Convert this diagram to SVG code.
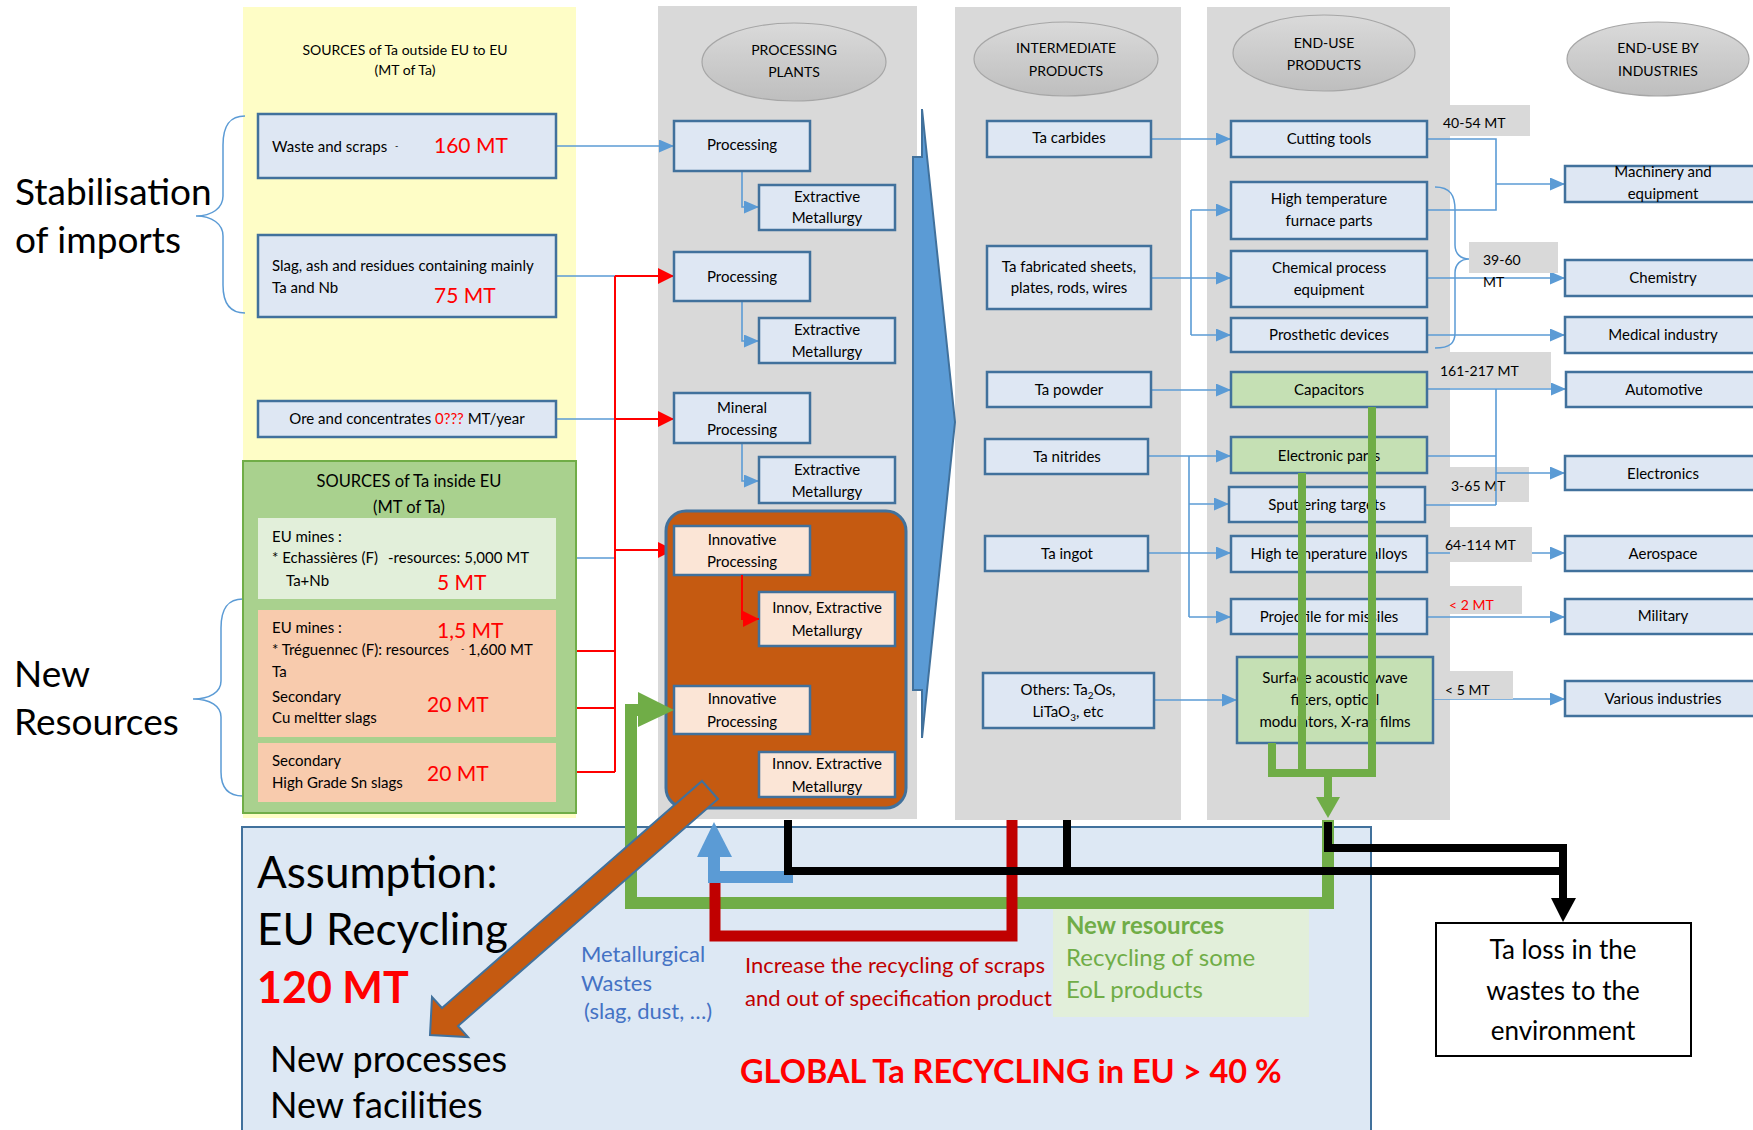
<svg xmlns="http://www.w3.org/2000/svg" width="1753" height="1130" viewBox="0 0 1753 1130">
<style>
  .t { font-family: Lato, 'Liberation Sans', sans-serif; font-size: 15px; fill: #000; }
  .h { font-size: 14px; }
  .c { text-anchor: middle; }
  .red { fill: #FF0000; }
  .amt { font-size: 21px; fill: #FF0000; }
  .box { fill: #DEE7F3; stroke: #41719C; stroke-width: 2.5; }
  .gbox { fill: #C5E0B4; stroke: #41719C; stroke-width: 2.5; }
  .ibox { fill: #FBE5D6; stroke: #41719C; stroke-width: 2.5; }
  .panel { fill: #D9D9D9; }
  .ell { fill: url(#eg); stroke: #A6A6A6; stroke-width: 1.2; }
  .lbl { fill: #D9D9D9; }
  .conn { fill: none; stroke: #5B9BD5; stroke-width: 1.6; }
  .rconn { fill: none; stroke: #FF0000; stroke-width: 2; }
  .brace { fill: none; stroke: #5B9BD5; stroke-width: 1.5; }
  .big { font-size: 37px; }
  .head { font-size: 44px; }
  .sub { font-size: 36px; }
  .note { font-size: 22px; }
  .eol { font-size: 24px; fill: #70AD47; }
  .loss { font-size: 26px; }
  .title16 { font-size: 16.5px; }
  .thk { fill: none; stroke-linejoin: miter; stroke-linecap: butt; }
</style>
<defs>
  <linearGradient id="eg" x1="0" y1="0" x2="0" y2="1">
    <stop offset="0" stop-color="#DADADA"/>
    <stop offset="1" stop-color="#BEBEBE"/>
  </linearGradient>
  <marker id="ab" viewBox="0 0 15 13" refX="15" refY="6.5" markerWidth="15" markerHeight="13" markerUnits="userSpaceOnUse" orient="auto">
    <path d="M0,0 L15,6.5 L0,13 z" fill="#5B9BD5"/>
  </marker>
  <marker id="ar" viewBox="0 0 16 16" refX="16" refY="8" markerWidth="16" markerHeight="16" markerUnits="userSpaceOnUse" orient="auto">
    <path d="M0,0 L16,8 L0,16 z" fill="#FF0000"/>
  </marker>
</defs>

<!-- column backgrounds -->
<g id="columns">
  <rect x="243" y="7" width="333" height="811" fill="#FEFDC6"/>
  <rect class="panel" x="658" y="6" width="259" height="813"/>
  <rect class="panel" x="955" y="7" width="226" height="813"/>
  <rect class="panel" x="1207" y="7" width="243" height="813"/>
</g>

<!-- column headings -->
<g id="heading-sources">
  <text class="t h c" x="405" y="55">SOURCES of Ta outside EU to EU</text>
  <text class="t h c" x="405" y="75">(MT of Ta)</text>
</g>
<g id="heading-processing">
  <ellipse class="ell" cx="794" cy="62" rx="92" ry="39"/>
  <text class="t h c" x="794" y="55">PROCESSING</text>
  <text class="t h c" x="794" y="77">PLANTS</text>
</g>
<g id="heading-intermediate">
  <ellipse class="ell" cx="1066" cy="59" rx="92" ry="37"/>
  <text class="t h c" x="1066" y="53">INTERMEDIATE</text>
  <text class="t h c" x="1066" y="76">PRODUCTS</text>
</g>
<g id="heading-enduse">
  <ellipse class="ell" cx="1324" cy="53" rx="91" ry="38"/>
  <text class="t h c" x="1324" y="48">END-USE</text>
  <text class="t h c" x="1324" y="70">PRODUCTS</text>
</g>
<g id="heading-industries">
  <ellipse class="ell" cx="1658" cy="59" rx="91" ry="37"/>
  <text class="t h c" x="1658" y="53">END-USE BY</text>
  <text class="t h c" x="1658" y="76">INDUSTRIES</text>
</g>

<!-- side captions with braces -->
<g id="caption-imports">
  <path class="brace" d="M245,116 C230,116 223,125 223,145 L223,196 C223,208 212,216 196,216 C212,216 223,224 223,236 L223,285 C223,303 230,313 245,313"/>
  <text class="t big" x="15" y="205">Stabilisation</text>
  <text class="t big" x="15" y="253">of imports</text>
</g>
<g id="caption-new">
  <path class="brace" d="M243,599 C228,599 221,608 221,628 L221,681 C221,692 210,699 193,699 C210,699 221,706 221,717 L221,772 C221,788 228,796 243,796"/>
  <text class="t big" x="14" y="687">New</text>
  <text class="t big" x="14" y="735">Resources</text>
</g>

<!-- recycling assumption panel -->
<g id="assumption">
  <rect x="242" y="827" width="1129" height="320" fill="#DDE8F4" stroke="#41719C" stroke-width="2"/>
  <text class="t head" x="257" y="888">Assumption:</text>
  <text class="t head" x="257" y="945">EU Recycling</text>
  <text class="t" x="257" y="1003" font-weight="bold" style="font-size:43px;fill:#FF0000">120 MT</text>
  <text class="t sub" x="270" y="1072">New processes</text>
  <text class="t sub" x="270" y="1118">New facilities</text>
  <text class="t note" x="581" y="962" style="fill:#4472C4">Metallurgical</text>
  <text class="t note" x="581" y="991" style="fill:#4472C4">Wastes</text>
  <text class="t note" x="584" y="1019" style="fill:#4472C4">(slag, dust, …)</text>
  <text class="t" x="745" y="973" style="font-size:22px;fill:#C00000">Increase the recycling of scraps</text>
  <text class="t" x="745" y="1006" style="font-size:22px;fill:#C00000">and out of specification product</text>
  <text class="t" x="740" y="1083" font-weight="bold" style="font-size:32.5px;fill:#FF0000">GLOBAL Ta RECYCLING in EU &gt; 40 %</text>
</g>
<g id="note-eol">
  <rect x="1053" y="909" width="256" height="108" fill="#E2EFDA"/>
  <text class="t eol" x="1066" y="934" font-weight="bold">New resources</text>
  <text class="t eol" x="1066" y="966">Recycling of some</text>
  <text class="t eol" x="1066" y="998">EoL products</text>
</g>
<g id="ta-loss">
  <rect x="1436" y="923" width="255" height="133" fill="#FFFFFF" stroke="#000" stroke-width="2"/>
  <text class="t c loss" x="1563" y="959">Ta loss in the</text>
  <text class="t c loss" x="1563" y="1000">wastes to the</text>
  <text class="t c loss" x="1563" y="1040">environment</text>
</g>

<!-- thin connectors -->
<g id="connectors">
  <!-- sources to processing -->
  <path class="conn" d="M556,146 H674" marker-end="url(#ab)"/>
  <path class="conn" d="M556,276 H615 M556,419 H615 M556,558 H615"/>
  <path class="rconn" d="M615,276 V772 M556,651 H615 M556,708 H615 M556,772 H615"/>
  <path class="rconn" d="M615,276 H674" marker-end="url(#ar)"/>
  <path class="rconn" d="M615,419 H674" marker-end="url(#ar)"/>
  <path class="rconn" d="M615,550 H674" marker-end="url(#ar)"/>
  <!-- processing to extraction -->
  <path class="conn" d="M742,171 V207 H759" marker-end="url(#ab)"/>
  <path class="conn" d="M742,301 V341 H759" marker-end="url(#ab)"/>
  <path class="conn" d="M742,443 V481 H759" marker-end="url(#ab)"/>
  <path class="conn" d="M742,734 V774 H759" marker-end="url(#ab)"/>
  <!-- intermediate to end-use -->
  <path class="conn" d="M1151,139 H1231" marker-end="url(#ab)"/>
  <path class="conn" d="M1151,278 H1231" marker-end="url(#ab)"/>
  <path class="conn" d="M1191,210 V335"/>
  <path class="conn" d="M1191,210 H1231" marker-end="url(#ab)"/>
  <path class="conn" d="M1191,335 H1231" marker-end="url(#ab)"/>
  <path class="conn" d="M1151,390 H1231" marker-end="url(#ab)"/>
  <path class="conn" d="M1148,456 H1231" marker-end="url(#ab)"/>
  <path class="conn" d="M1189,456 V617"/>
  <path class="conn" d="M1189,504 H1229" marker-end="url(#ab)"/>
  <path class="conn" d="M1148,553 H1231" marker-end="url(#ab)"/>
  <path class="conn" d="M1189,617 H1231" marker-end="url(#ab)"/>
  <path class="conn" d="M1154,700 H1237" marker-end="url(#ab)"/>
  <!-- end-use to industries -->
  <path class="conn" d="M1427,139 H1496 V210 H1427"/>
  <path class="conn" d="M1496,184 H1565" marker-end="url(#ab)"/>
  <path class="conn" d="M1427,278 H1565" marker-end="url(#ab)"/>
  <path class="conn" d="M1427,335 H1565" marker-end="url(#ab)"/>
  <path class="conn" d="M1427,389 H1566" marker-end="url(#ab)"/>
  <path class="conn" d="M1427,553 H1565" marker-end="url(#ab)"/>
  <path class="conn" d="M1427,617 H1565" marker-end="url(#ab)"/>
  <path class="conn" d="M1433,699 H1565" marker-end="url(#ab)"/>
  <path class="brace" d="M1435,187 C1450,187 1455,195 1455,210 L1455,245 C1455,254 1461,259 1469,259 L1481,259 M1469,259 C1461,259 1455,264 1455,273 L1455,333 C1455,343 1450,348 1435,348"/>
</g>

<!-- quantity labels -->
<g id="labels">
  <rect class="lbl" x="1450" y="105" width="80" height="31"/>
  <text class="t h" x="1443" y="128">40-54 MT</text>
  <rect class="lbl" x="1469" y="242" width="89" height="31"/>
  <text class="t h" x="1483" y="265">39-60</text>
  <text class="t h" x="1483" y="287">MT</text>
  <rect class="lbl" x="1450" y="352" width="101" height="36"/>
  <text class="t h" x="1440" y="376">161-217 MT</text>
  <rect class="lbl" x="1450" y="467" width="79" height="35"/>
  <text class="t h" x="1451" y="491">3-65 MT</text>
  <rect class="lbl" x="1450" y="527" width="82" height="35"/>
  <text class="t h" x="1445" y="550">64-114 MT</text>
  <rect class="lbl" x="1450" y="586" width="72" height="28"/>
  <text class="t h red" x="1449" y="610">&lt; 2 MT</text>
  <rect class="lbl" x="1432" y="671" width="81" height="28"/>
  <text class="t h" x="1445" y="695">&lt; 5 MT</text>
</g>
<g id="connectors-electronics">
  <path class="conn" d="M1496,389 V505 M1427,456 H1496 M1425,505 H1496"/>
  <path class="conn" d="M1496,473 H1565" marker-end="url(#ab)"/>
</g>

<!-- source nodes -->
<g id="n-waste">
  <rect class="box" x="258" y="114" width="298" height="64"/>
  <text class="t" x="272" y="152">Waste and scraps <tspan x="395" dy="-3" font-size="9">-</tspan></text>
  <text class="t amt" x="434" y="153">160 MT</text>
</g>
<g id="n-slag">
  <rect class="box" x="258" y="235" width="298" height="82"/>
  <text class="t" x="272" y="271">Slag, ash and residues containing mainly</text>
  <text class="t" x="272" y="293">Ta and Nb</text>
  <text class="t amt" x="434" y="303">75 MT</text>
</g>
<g id="n-ore">
  <rect class="box" x="258" y="401" width="298" height="36"/>
  <text class="t c" x="407" y="424">Ore and concentrates <tspan class="red">0???</tspan> MT/year</text>
</g>
<g id="n-eu-sources">
  <rect x="243" y="461" width="333" height="352" fill="#A9D18E" stroke="#70AD47" stroke-width="2"/>
  <text class="t c title16" x="409" y="487">SOURCES of Ta inside EU</text>
  <text class="t c title16" x="409" y="513">(MT of Ta)</text>
</g>
<g id="n-echassieres">
  <rect x="258" y="518" width="298" height="81" fill="#E2EFDA"/>
  <text class="t" x="272" y="542">EU mines :</text>
  <text class="t" x="272" y="563">* Echassières (F) <tspan x="388">-resources: 5,000 MT</tspan></text>
  <text class="t" x="286" y="586">Ta+Nb</text>
  <text class="t amt" x="437" y="590">5 MT</text>
</g>
<g id="n-treguennec">
  <rect x="258" y="610" width="298" height="127" fill="#F8CBAD"/>
  <text class="t" x="272" y="633">EU mines :</text>
  <text class="t amt" x="437" y="638">1,5 MT</text>
  <text class="t" x="272" y="655">* Tréguennec (F): resources <tspan x="461" dy="-3" font-size="9">-</tspan><tspan x="468" dy="3">1,600 MT</tspan></text>
  <text class="t" x="272" y="677">Ta</text>
  <text class="t" x="272" y="702">Secondary</text>
  <text class="t" x="272" y="723">Cu meltter slags</text>
  <text class="t amt" x="427" y="712">20 MT</text>
</g>
<g id="n-sn-slags">
  <rect x="258" y="743" width="298" height="59" fill="#F8CBAD"/>
  <text class="t" x="272" y="766">Secondary</text>
  <text class="t" x="272" y="788">High Grade Sn slags</text>
  <text class="t amt" x="427" y="781">20 MT</text>
</g>

<!-- processing nodes -->
<g id="n-proc1">
  <rect class="box" x="674" y="121" width="136" height="50"/>
  <text class="t c" x="742" y="150">Processing</text>
</g>
<g id="n-ext1">
  <rect class="box" x="759" y="185" width="136" height="45"/>
  <text class="t c" x="827" y="202">Extractive</text>
  <text class="t c" x="827" y="223">Metallurgy</text>
</g>
<g id="n-proc2">
  <rect class="box" x="674" y="252" width="136" height="49"/>
  <text class="t c" x="742" y="282">Processing</text>
</g>
<g id="n-ext2">
  <rect class="box" x="759" y="318" width="136" height="45"/>
  <text class="t c" x="827" y="335">Extractive</text>
  <text class="t c" x="827" y="357">Metallurgy</text>
</g>
<g id="n-mineral">
  <rect class="box" x="674" y="393" width="136" height="50"/>
  <text class="t c" x="742" y="413">Mineral</text>
  <text class="t c" x="742" y="435">Processing</text>
</g>
<g id="n-ext3">
  <rect class="box" x="759" y="457" width="136" height="46"/>
  <text class="t c" x="827" y="475">Extractive</text>
  <text class="t c" x="827" y="497">Metallurgy</text>
</g>
<g id="n-innovation">
  <rect x="666" y="511" width="240" height="297" rx="20" fill="#C55A11" stroke="#41719C" stroke-width="3"/>
</g>
<g id="n-iproc1">
  <rect class="ibox" x="674" y="526" width="136" height="49"/>
  <text class="t c" x="742" y="545">Innovative</text>
  <text class="t c" x="742" y="567">Processing</text>
</g>
<g id="n-iext1">
  <rect class="ibox" x="759" y="592" width="136" height="54"/>
  <text class="t c" x="827" y="613">Innov, Extractive</text>
  <text class="t c" x="827" y="636">Metallurgy</text>
</g>
<g id="n-iproc2">
  <rect class="ibox" x="674" y="686" width="136" height="48"/>
  <text class="t c" x="742" y="704">Innovative</text>
  <text class="t c" x="742" y="727">Processing</text>
</g>
<g id="n-iext2">
  <rect class="ibox" x="759" y="752" width="136" height="45"/>
  <text class="t c" x="827" y="769">Innov. Extractive</text>
  <text class="t c" x="827" y="792">Metallurgy</text>
</g>
<g id="innov-link">
  <path d="M742,575 V619 H759" fill="none" stroke="#FF0000" stroke-width="2" marker-end="url(#ar)"/>
</g>

<!-- flow arrow between processing and intermediate products -->
<g id="flow-arrow">
  <path d="M922,109 L955,422 L922,738 L922,690 L913,690 L913,157 L922,157 Z" fill="#5B9BD5" stroke="#41719C" stroke-width="2" stroke-linejoin="miter"/>
</g>

<!-- intermediate products -->
<g id="n-carbides">
  <rect class="box" x="987" y="121" width="164" height="36"/>
  <text class="t c" x="1069" y="143">Ta carbides</text>
</g>
<g id="n-sheets">
  <rect class="box" x="987" y="246" width="164" height="63"/>
  <text class="t c" x="1069" y="272">Ta fabricated sheets,</text>
  <text class="t c" x="1069" y="293">plates, rods, wires</text>
</g>
<g id="n-powder">
  <rect class="box" x="987" y="372" width="164" height="35"/>
  <text class="t c" x="1069" y="395">Ta powder</text>
</g>
<g id="n-nitrides">
  <rect class="box" x="985" y="439" width="163" height="35"/>
  <text class="t c" x="1067" y="462">Ta nitrides</text>
</g>
<g id="n-ingot">
  <rect class="box" x="985" y="536" width="163" height="35"/>
  <text class="t c" x="1067" y="559">Ta ingot</text>
</g>
<g id="n-others">
  <rect class="box" x="983" y="673" width="171" height="55"/>
  <text class="t c" x="1068" y="695">Others: Ta<tspan font-size="10" dy="4">2</tspan><tspan dy="-4">Os,</tspan></text>
  <text class="t c" x="1068" y="717">LiTaO<tspan font-size="10" dy="4">3</tspan><tspan dy="-4">, etc</tspan></text>
</g>

<!-- end-use products -->
<g id="n-cutting">
  <rect class="box" x="1231" y="121" width="196" height="36"/>
  <text class="t c" x="1329" y="144">Cutting tools</text>
</g>
<g id="n-furnace">
  <rect class="box" x="1231" y="182" width="196" height="57"/>
  <text class="t c" x="1329" y="204">High temperature</text>
  <text class="t c" x="1329" y="226">furnace parts</text>
</g>
<g id="n-chemical">
  <rect class="box" x="1231" y="251" width="196" height="56"/>
  <text class="t c" x="1329" y="273">Chemical process</text>
  <text class="t c" x="1329" y="295">equipment</text>
</g>
<g id="n-prosthetic">
  <rect class="box" x="1231" y="318" width="196" height="34"/>
  <text class="t c" x="1329" y="340">Prosthetic devices</text>
</g>
<g id="n-capacitors">
  <rect class="gbox" x="1231" y="372" width="196" height="35"/>
  <text class="t c" x="1329" y="395">Capacitors</text>
</g>
<g id="n-electronic">
  <rect class="gbox" x="1231" y="437" width="196" height="36"/>
  <text class="t c" x="1329" y="461">Electronic parts</text>
</g>
<g id="n-sputtering">
  <rect class="box" x="1229" y="487" width="196" height="35"/>
  <text class="t c" x="1327" y="510">Sputtering targets</text>
</g>
<g id="n-alloys">
  <rect class="box" x="1231" y="536" width="196" height="36"/>
  <text class="t c" x="1329" y="559">High temperature alloys</text>
</g>
<g id="n-projectile">
  <rect class="box" x="1231" y="599" width="196" height="35"/>
  <text class="t c" x="1329" y="622">Projectile for missiles</text>
</g>
<g id="n-saw">
  <rect class="gbox" x="1237" y="657" width="196" height="86"/>
  <text class="t c" x="1335" y="683">Surface acoustic wave</text>
  <text class="t c" x="1335" y="705">filters, optical</text>
  <text class="t c" x="1335" y="727">modulators, X-ray films</text>
</g>

<!-- end-use industries -->
<g id="n-machinery">
  <rect class="box" x="1565" y="166" width="200" height="36"/>
  <text class="t c" x="1663" y="177">Machinery and</text>
  <text class="t c" x="1663" y="199">equipment</text>
</g>
<g id="n-chemistry">
  <rect class="box" x="1565" y="260" width="200" height="36"/>
  <text class="t c" x="1663" y="283">Chemistry</text>
</g>
<g id="n-medical">
  <rect class="box" x="1565" y="317" width="200" height="36"/>
  <text class="t c" x="1663" y="340">Medical industry</text>
</g>
<g id="n-automotive">
  <rect class="box" x="1566" y="372" width="200" height="35"/>
  <text class="t c" x="1664" y="395">Automotive</text>
</g>
<g id="n-electronics">
  <rect class="box" x="1565" y="456" width="200" height="34"/>
  <text class="t c" x="1663" y="479">Electronics</text>
</g>
<g id="n-aerospace">
  <rect class="box" x="1565" y="536" width="200" height="35"/>
  <text class="t c" x="1663" y="559">Aerospace</text>
</g>
<g id="n-military">
  <rect class="box" x="1565" y="599" width="200" height="35"/>
  <text class="t c" x="1663" y="621">Military</text>
</g>
<g id="n-various">
  <rect class="box" x="1565" y="681" width="200" height="35"/>
  <text class="t c" x="1663" y="704">Various industries</text>
</g>

<!-- recycling and loss flows -->
<g id="flows">
  <!-- end-of-life collection from end-use products -->
  <path class="thk" d="M1372,407 V773 M1302,473 V773 M1272,743 V773 M1268,773 H1376 M1328,773 V797" stroke="#70AD47" stroke-width="8"/>
  <polygon points="1316,797 1340,797 1328,818" fill="#70AD47"/>
  <!-- EoL recycling loop back to innovative processing -->
  <path class="thk" d="M1328,820 V903 H631 V710 H640" stroke="#70AD47" stroke-width="12"/>
  <polygon points="638,692 674,710 638,727" fill="#70AD47"/>
  <!-- scrap recycling loop -->
  <path class="thk" d="M1012,820 V936 H715 V878" stroke="#C00000" stroke-width="11"/>
  <!-- metallurgical wastes -->
  <path class="thk" d="M793,877 H714 V856" stroke="#5B9BD5" stroke-width="12"/>
  <polygon points="697,857 714,822 732,857" fill="#5B9BD5"/>
  <!-- losses -->
  <path class="thk" d="M788,820 V871 H1563 M1067,820 V871" stroke="#000" stroke-width="8"/>
  <path class="thk" d="M1328,822 V848 H1563 V900" stroke="#000" stroke-width="8"/>
  <polygon points="1551,898 1576,898 1563,922" fill="#000"/>
  <!-- new processes arrow -->
  <polygon points="702,781 718,799 458,1026 468,1037 430,1035 432,997 442,1008" fill="#C55A11" stroke="#41719C" stroke-width="2" stroke-linejoin="miter"/>
</g>
</svg>
